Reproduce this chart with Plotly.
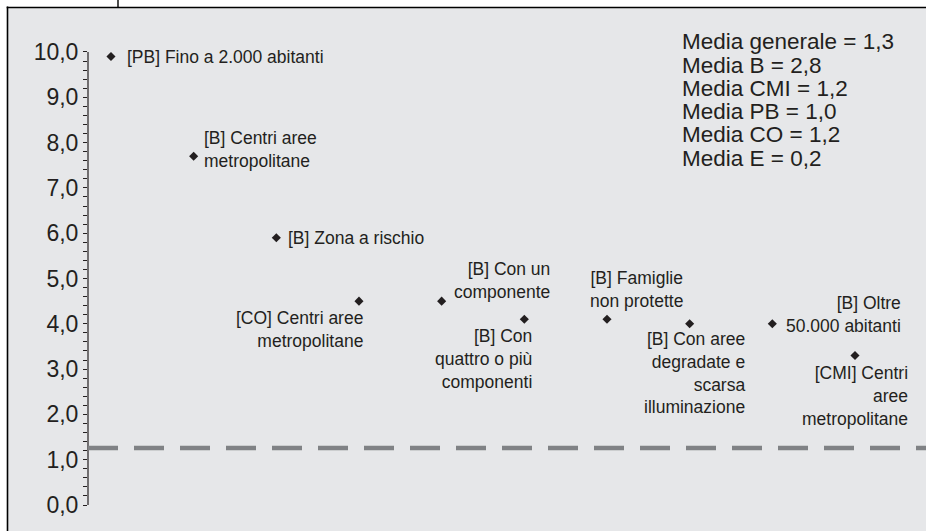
import plotly.graph_objects as go

# indici della criminalita' per tipo di famiglia
labels = [
    "[PB] Fino a 2.000 abitanti",
    "[B] Centri aree<br>metropolitane",
    "[B] Zona a rischio",
    "[CO] Centri aree<br>metropolitane",
    "[B] Con un<br>componente",
    "[B] Con<br>quattro o più<br>componenti",
    "[B] Famiglie<br>non protette",
    "[B] Con aree<br>degradate e<br>scarsa<br>illuminazione",
    "[B] Oltre<br>50.000 abitanti",
    "[CMI] Centri<br>aree<br>metropolitane",
]
values = [9.9, 7.7, 5.9, 4.5, 4.5, 4.1, 4.1, 4.0, 4.0, 3.3]

mean_names = ["generale", "B", "CMI", "PB", "CO", "E"]
mean_values = [1.26, 2.8, 1.2, 1.0, 1.2, 0.2]

y_ticks = [0, 1, 2, 3, 4, 5, 6, 7, 8, 9, 10]

FONT = "Liberation Sans, Arial, sans-serif"
INK = "#231f20"
PANEL = "#e6e7e9"

W, H = 926, 531
ML, MT = 88, 7
pw, ph = W - ML, H - MT


def px_x(p):
    return (p - ML) / pw


def px_y(p):
    return (H - p) / ph


xs = list(range(1, len(values) + 1))

fig = go.Figure()
fig.add_trace(go.Scatter(
    x=xs, y=values, mode="markers",
    marker=dict(symbol="diamond", size=7, color=INK),
    hoverinfo="skip", showlegend=False,
))

# posizione di ciascuna etichetta: (xanchor, yanchor, xshift, yshift, align)
label_pos = [
    ("left", "middle", 14, 0, "left"),
    ("left", "middle", 8, 7, "left"),
    ("left", "middle", 10, 0, "left"),
    ("right", "middle", 6, -28, "right"),
    ("left", "middle", 10, 21, "right"),
    ("right", "middle", 10, -40, "right"),
    ("left", "middle", -19, 30, "center"),
    ("right", "middle", 57, -49, "right"),
    ("left", "middle", 12, 9, "right"),
    ("right", "middle", 55, -40, "right"),
]

annotations = []
for x, y, t, (xa, ya, dx, dy, al) in zip(xs, values, labels, label_pos):
    annotations.append(dict(
        x=x, y=y, xref="x", yref="y", text=t, showarrow=False,
        xanchor=xa, yanchor=ya, xshift=dx, yshift=dy, align=al,
        font=dict(family=FONT, size=17.5, color=INK),
    ))

# riquadro delle medie
for i, (n, v) in enumerate(zip(mean_names, mean_values)):
    annotations.append(dict(
        x=px_x(680), y=px_y(41.7 + 23.3 * i), xref="paper", yref="paper",
        text=f"Media {n} = {v:.1f}".replace(".", ","), showarrow=False,
        xanchor="left", yanchor="middle",
        font=dict(family=FONT, size=22.5, color=INK),
    ))

shapes = [
    # sfondo grigio e cornice
    dict(type="rect", xref="paper", yref="paper", x0=px_x(7), x1=1.01, y0=-0.02, y1=px_y(7),
         fillcolor=PANEL, line=dict(width=0), layer="below"),
    dict(type="line", xref="paper", yref="paper", x0=px_x(7.5), x1=px_x(7.5), y0=-0.02, y1=px_y(6.5),
         line=dict(color="black", width=1.6)),
    dict(type="line", xref="paper", yref="paper", x0=px_x(6.7), x1=1.01, y0=px_y(7.5), y1=px_y(7.5),
         line=dict(color="black", width=1.6)),
    dict(type="line", xref="paper", yref="paper", x0=px_x(118), x1=px_x(118), y0=px_y(7), y1=px_y(0),
         line=dict(color="black", width=1.4)),
    # asse y da 0 a 10
    dict(type="line", xref="paper", yref="y", x0=0, x1=0, y0=min(y_ticks), y1=max(y_ticks),
         line=dict(color=INK, width=1.2)),
    # media generale
    dict(type="line", xref="paper", yref="y", x0=0, x1=1.01, y0=mean_values[0], y1=mean_values[0],
         line=dict(color="#808285", width=4.5, dash="30px,16px")),
]

minor_vals = [round(t + k * 0.2, 1) for t in y_ticks[:-1] for k in range(1, 5)]

fig.update_layout(
    width=W, height=H,
    margin=dict(l=ML, r=0, t=MT, b=0),
    paper_bgcolor="white", plot_bgcolor=PANEL,
    separators=",.",
    showlegend=False,
    annotations=annotations,
    shapes=shapes,
    xaxis=dict(range=[0.722, 10.859], visible=False, fixedrange=True),
    yaxis=dict(
        range=[-0.574, 10.993], tickmode="array", tickvals=y_ticks, tickformat=".1f",
        ticks="outside", ticklen=4, tickwidth=1.2, tickcolor=INK,
        showgrid=False, zeroline=False, showline=False,
        tickfont=dict(family=FONT, size=23, color=INK),
        minor=dict(tickmode="array", tickvals=minor_vals, ticks="outside",
                   ticklen=4, tickwidth=1, tickcolor=INK, showgrid=False),
        fixedrange=True,
    ),
)

# niente margine della pagina, cosi' il grafico occupa tutta la finestra
fig.write_html(
    "out.html",
    config={"displayModeBar": False},
    post_script="document.body.style.margin='0';document.documentElement.style.overflow='hidden';",
)
